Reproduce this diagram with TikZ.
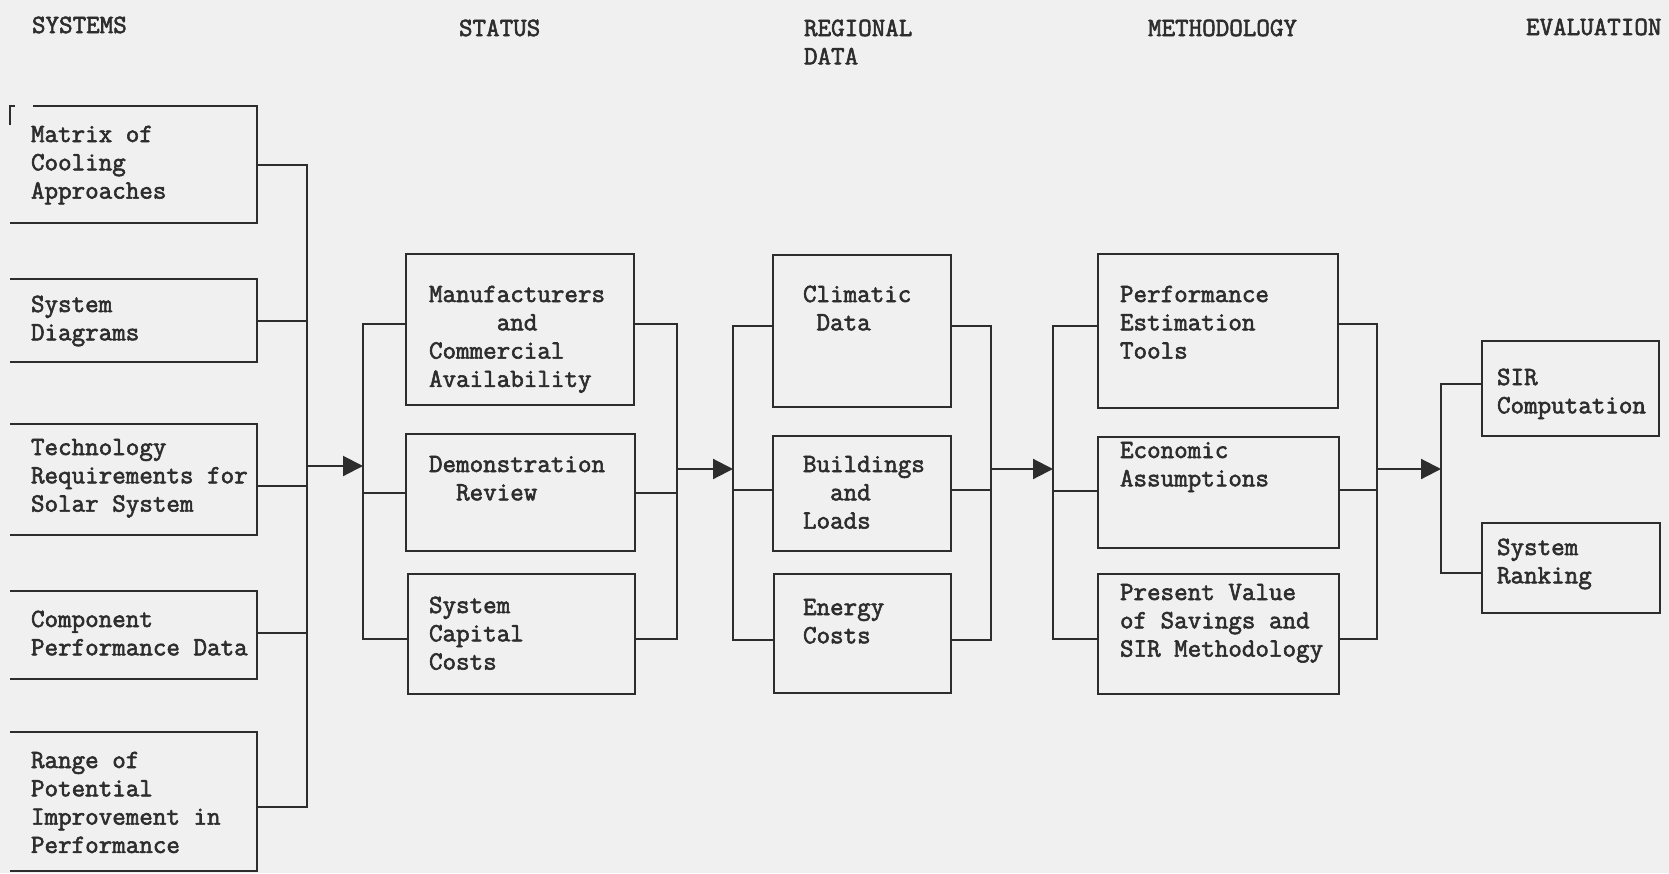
\documentclass[tikz,border=0pt]{standalone}
\usepackage{fontspec}
\setmonofont{Latin Modern Mono}[UprightFeatures={FakeBold=2.2}]
\usetikzlibrary{arrows.meta,calc}
\definecolor{bg}{RGB}{240,240,240}
\definecolor{ink}{RGB}{45,45,45}
\tikzset{
  box/.style={draw=ink, line width=2.1pt, inner sep=0pt, anchor=north west},
  openbox/.style={inner sep=0pt, anchor=north west},
  txt/.style={anchor=north west, inner sep=0pt, outer sep=0pt, yshift=19.81pt, align=left,
    font=\ttfamily\fontsize{26.3}{28.3}\selectfont, text=ink},
  wire/.style={draw=ink, line width=2.1pt},
  arr/.style={wire, -{Triangle[length=20pt,width=20pt]}},
}
\begin{document}
\begin{tikzpicture}[x=1pt,y=-1pt]
\fill[bg] (0,0) rectangle (1669,873);
\useasboundingbox (0,0) rectangle (1669,873);

% headers
\node[txt] (h1) at (32,33) {\strut SYSTEMS};
\node[txt] (h2) at (459,36) {\strut STATUS};
\node[txt] (h3) at (804,36) {\strut REGIONAL\\DATA};
\node[txt] (h4) at (1148,36) {\strut METHODOLOGY};
\node[txt] (h5) at (1526,35) {\strut EVALUATION};

% bus coordinates
\coordinate (b1) at (307,0);
\coordinate (b2) at (363,0);
\coordinate (b3) at (677,0);
\coordinate (b4) at (733,0);
\coordinate (b5) at (991,0);
\coordinate (b6) at (1053,0);
\coordinate (b7) at (1377,0);
\coordinate (b8) at (1441,0);

% SYSTEMS column (open on the left)
\node[openbox, minimum width=247pt, minimum height=117pt] (s1) at (10,106) {};
\node[openbox, minimum width=247pt, minimum height=83pt]  (s2) at (10,279) {};
\node[openbox, minimum width=247pt, minimum height=111pt] (s3) at (10,424) {};
\node[openbox, minimum width=247pt, minimum height=88pt]  (s4) at (10,591) {};
\node[openbox, minimum width=247pt, minimum height=139pt] (s5) at (10,732) {};
\draw[wire] ([xshift=23pt]s1.north west) -- (s1.north east) -- (s1.south east) -- (s1.south west);
\foreach \n in {s2,s3,s4,s5}
  \draw[wire] (\n.north west) -- (\n.north east) -- (\n.south east) -- (\n.south west);
\draw[wire] ([yshift=-19pt]s1.north west) -- (s1.north west) -- ([xshift=5pt]s1.north west);

\node[txt] (ts1) at (31,142) {\strut Matrix of\\Cooling\\Approaches};
\node[txt] (ts2) at (31,312) {\strut System\\Diagrams};
\node[txt] (ts3) at (31,455) {\strut Technology\\Requirements for\\Solar System};
\node[txt] (ts4) at (31,627) {\strut Component\\Performance Data};
\node[txt] (ts5) at (31,768) {\strut Range of\\Potential\\Improvement in\\Performance};

\draw[wire] (s1.east) -- (s1.east -| b1) -- ([yshift=-5.5pt]s5.east -| b1) -- ([yshift=-5.5pt]s5.east);
\draw[wire] (s2.east) -- (s2.east -| b1);
\draw[wire] ([yshift=-6.5pt]s3.east) -- ([yshift=-6.5pt]s3.east -| b1);
\draw[wire] ([yshift=2pt]s4.east) -- ([yshift=2pt]s4.east -| b1);
\coordinate (a1) at (307,466);
\draw[arr] (a1) -- (a1 -| b2);

% STATUS column
\node[box, minimum width=228pt, minimum height=151pt] (m) at (405,253) {};
\node[box, minimum width=229pt, minimum height=117pt] (d) at (405,433) {};
\node[box, minimum width=227pt, minimum height=120pt] (c) at (407,573) {};
\node[txt] (tm) at (429,302) {\strut Manufacturers\\\phantom{xxxxx}and\\Commercial\\Availability};
\node[txt] (td) at (429,472) {\strut Demonstration\\\phantom{xx}Review};
\node[txt] (tc) at (429,613) {\strut System\\Capital\\Costs};

\draw[wire] ([yshift=5.5pt]m.west) -- ([yshift=5.5pt]m.west -| b2) -- ([yshift=-5pt]c.west -| b2) -- ([yshift=-5pt]c.west);
\draw[wire] (d.west) -- (d.west -| b2);
\draw[wire] ([yshift=5.5pt]m.east) -- ([yshift=5.5pt]m.east -| b3) -- ([yshift=-5pt]c.east -| b3) -- ([yshift=-5pt]c.east);
\draw[wire] (d.east) -- (d.east -| b3);
\coordinate (a2) at (677,469);
\draw[arr] (a2) -- (a2 -| b4);

% REGIONAL DATA column
\node[box, minimum width=178pt, minimum height=152pt] (cl) at (772,254) {};
\node[box, minimum width=178pt, minimum height=115pt] (bl) at (772,435) {};
\node[box, minimum width=177pt, minimum height=119pt] (en) at (773,573) {};
\node[txt] (tcl) at (803,302) {\strut Climatic\\\phantom{x}Data};
\node[txt] (tbl) at (803,472) {\strut Buildings\\\phantom{xx}and\\Loads};
\node[txt] (ten) at (803,615) {\strut Energy\\Costs};

\draw[wire] ([yshift=5pt]cl.west) -- ([yshift=5pt]cl.west -| b4) -- ([yshift=-6.5pt]en.west -| b4) -- ([yshift=-6.5pt]en.west);
\draw[wire] ([yshift=3.5pt]bl.west) -- ([yshift=3.5pt]bl.west -| b4);
\draw[wire] ([yshift=5pt]cl.east) -- ([yshift=5pt]cl.east -| b5) -- ([yshift=-6.5pt]en.east -| b5) -- ([yshift=-6.5pt]en.east);
\draw[wire] ([yshift=3.5pt]bl.east) -- ([yshift=3.5pt]bl.east -| b5);
\coordinate (a3) at (991,469);
\draw[arr] (a3) -- (a3 -| b6);

% METHODOLOGY column
\node[box, minimum width=240pt, minimum height=154pt] (p) at (1097,253) {};
\node[box, minimum width=241pt, minimum height=111pt] (e) at (1097,436) {};
\node[box, minimum width=241pt, minimum height=120pt] (pv) at (1097,573) {};
\node[txt] (tp) at (1120,302) {\strut Performance\\Estimation\\Tools};
\node[txt] (te) at (1120,458) {\strut Economic\\Assumptions};
\node[txt] (tpv) at (1120,600) {\strut Present Value\\of Savings and\\SIR Methodology};

\draw[wire] ([yshift=5pt]p.west) -- ([yshift=5pt]p.west -| b6) -- ([yshift=-5pt]pv.west -| b6) -- ([yshift=-5pt]pv.west);
\draw[wire] ([yshift=1.5pt]e.west) -- ([yshift=1.5pt]e.west -| b6);
\draw[wire] ([yshift=7pt]p.east) -- ([yshift=7pt]p.east -| b7) -- ([yshift=-5pt]pv.east -| b7) -- ([yshift=-5pt]pv.east);
\draw[wire] ([yshift=3pt]e.east) -- ([yshift=3pt]e.east -| b7);
\coordinate (a4) at (1377,469);
\draw[arr] (a4) -- (a4 -| b8);

% EVALUATION column
\node[box, minimum width=177pt, minimum height=95pt] (sir) at (1481,340) {};
\node[box, minimum width=178pt, minimum height=90pt] (rk) at (1481,522) {};
\node[txt] (tsir) at (1497,385) {\strut SIR\\Computation};
\node[txt] (trk) at (1497,555) {\strut System\\Ranking};

\draw[wire] ([yshift=4.5pt]sir.west) -- ([yshift=4.5pt]sir.west -| b8) -- ([yshift=-5pt]rk.west -| b8) -- ([yshift=-5pt]rk.west);
\end{tikzpicture}
\end{document}
